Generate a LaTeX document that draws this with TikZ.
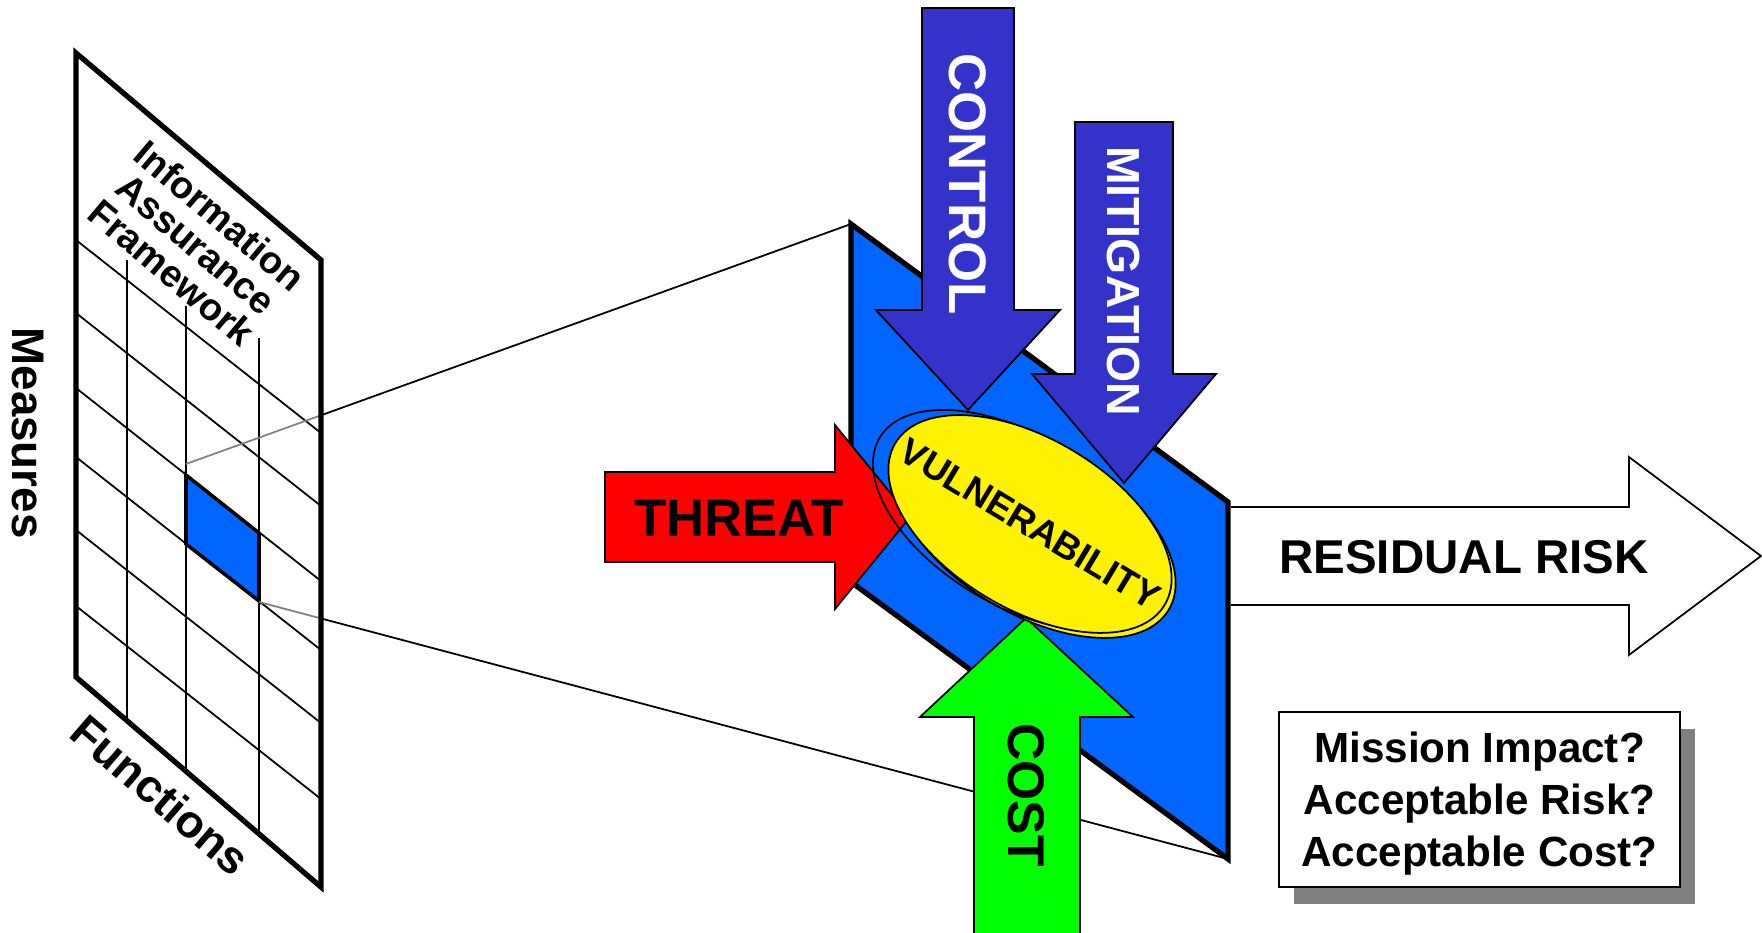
\documentclass[tikz,border=0pt]{standalone}
\usepackage{fontspec}
\setmainfont{Liberation Sans}
\usetikzlibrary{shapes.geometric, shadows}
\definecolor{panelblue}{RGB}{0,102,255}
\definecolor{arrowblue}{RGB}{51,51,204}
\definecolor{shadowgrey}{RGB}{128,128,128}
\tikzset{
  frameline/.style={
    line width = 1.5pt,
    draw=black,
    line join=miter,
    },
  gridline/.style={
    line width = 0.5pt,
    draw=black,
    },
  zoomline/.style={
    line width = 0.5pt,
    },
  blockarrow/.style={
    line width = 0.5pt,
    draw=black,
    line join=miter,
    },
  arrowtext/.style={
    inner sep=0pt,
    font=\bfseries\fontsize{15}{15}\selectfont,
    },
  axistext/.style={
    inner sep=0pt,
    font=\bfseries\fontsize{13}{13}\selectfont,
    },
  vulnblob/.style={
    ellipse,
    minimum width=3.14cm,
    minimum height=1.7cm,
    inner sep=0pt,
    line width = 0.5pt,
    rotate=-31,
    },
  questionbox/.style={
    rectangle,
    minimum width=4.01cm,
    minimum height=1.75cm,
    align = center,
    draw=black,
    fill=white,
    line width = 0.7pt,
    text depth=0pt,
    font=\bfseries\fontsize{12}{14.8}\selectfont,
    drop shadow={shadow xshift=0.15cm, shadow yshift=-0.17cm, fill=shadowgrey, opacity=1},
    },
}

\begin{document}
\begin{tikzpicture}[x=0.01cm, y=-0.01cm]
    \useasboundingbox (0,0) rectangle (1762,933);
    \coordinate (fnw) at (76,53);
    \coordinate (fne) at (321,260);
    \coordinate (fse) at (321,887);
    \coordinate (fsw) at (76,677);
    \coordinate (cellnw) at (186,464);
    \coordinate (cellse) at (259,602);
    \coordinate (pnw) at (851,224);
    \coordinate (pne) at (1228,502);
    \coordinate (pse) at (1228,859);
    \coordinate (psw) at (851,582);
    \coordinate (cut1) at (intersection of cellnw--pnw and fne--fse);
    \coordinate (cut2) at (intersection of cellse--pse and fne--fse);

    \foreach \y in {240,313,388,457,530,606}
        \draw [gridline] (76,\y) -- (321,{\y+193});
    \foreach \x/\ya/\yb in {127/260/721, 186/306/771, 259/338/834}
        \draw [gridline] (\x,\ya) -- (\x,\yb);
    \filldraw [fill=panelblue, line width=1pt] (186,475) -- (259,533) -- (259,601) -- (186,544) -- cycle;
    \draw [zoomline, shadowgrey] (cellnw) -- (cut1);
    \draw [zoomline, shadowgrey] (cellse) -- (cut2);
    \draw [zoomline] (cut1) -- (pnw);
    \draw [zoomline] (cut2) -- (pse);
    \draw [frameline] (fnw) -- (fne) -- (fse) -- (fsw) -- cycle;

    \filldraw [frameline, fill=panelblue] (pnw) -- (pne) -- (pse) -- (psw) -- cycle;
    \filldraw [blockarrow, fill=white] (1231,507) -- (1629,507) -- (1629,457) -- (1761,556) -- (1629,655) -- (1629,605) -- (1231,605);
    \filldraw [blockarrow, fill=arrowblue] (922,8) -- (1014,8) -- (1014,310) -- (1060,310) -- (968,410) -- (876,310) -- (922,310) -- cycle;
    \filldraw [blockarrow, fill=arrowblue] (1075,122) -- (1173,122) -- (1173,374) -- (1216,374) -- (1124,483) -- (1032,374) -- (1075,374) -- cycle;
    \filldraw [blockarrow, fill=red] (605,472) -- (835,472) -- (835,425) -- (910,517) -- (835,609) -- (835,562) -- (605,562) -- cycle;
    \filldraw [blockarrow, fill=green] (974,940) -- (974,717) -- (920,717) -- (1026,618) -- (1133,717) -- (1080,717) -- (1080,940);

    \node [vulnblob, fill=yellow, draw=black] (halo) at (1034,529) {};
    \node [vulnblob, draw=black, minimum width=3.2cm] (ring) at (1017,520) {};
    \node [vulnblob, fill=yellow, draw=black] (vuln) at (1030,524) {};
    \node [rotate=-31, inner sep=0pt, font=\bfseries\fontsize{10.5}{10.5}\selectfont] (vulntext) at (vuln.center) {VULNERABILITY};

    \node [arrowtext, white, rotate=-90] (control) at (968,184) {CONTROL};
    \node [arrowtext, white, rotate=-90, font=\bfseries\fontsize{13.2}{13.2}\selectfont] (mitigation) at (1123,281) {MITIGATION};
    \node [arrowtext] (threat) at (739,518) {THREAT};
    \node [arrowtext, rotate=-90, font=\bfseries\fontsize{14.7}{14.7}\selectfont] (cost) at (1026,795) {COST};
    \node [arrowtext, font=\bfseries\fontsize{13.5}{13.5}\selectfont] (residual) at (1464,557) {RESIDUAL RISK};
    \node [questionbox] (questions) at (1479.5,799.5) {Mission Impact?\\Acceptable Risk?\\Acceptable Cost?};

    \node [axistext, rotate=-90] (measures) at (28,433) {Measures};
    \node [axistext, rotate=-40.6] (functions) at (161,795) {Functions};
    \node [axistext, rotate=-40.2, align=center, font=\bfseries\fontsize{10.8}{10.6}\selectfont] (framework) at (196,244) {Information\\Assurance\\Framework};
\end{tikzpicture}
\end{document}
